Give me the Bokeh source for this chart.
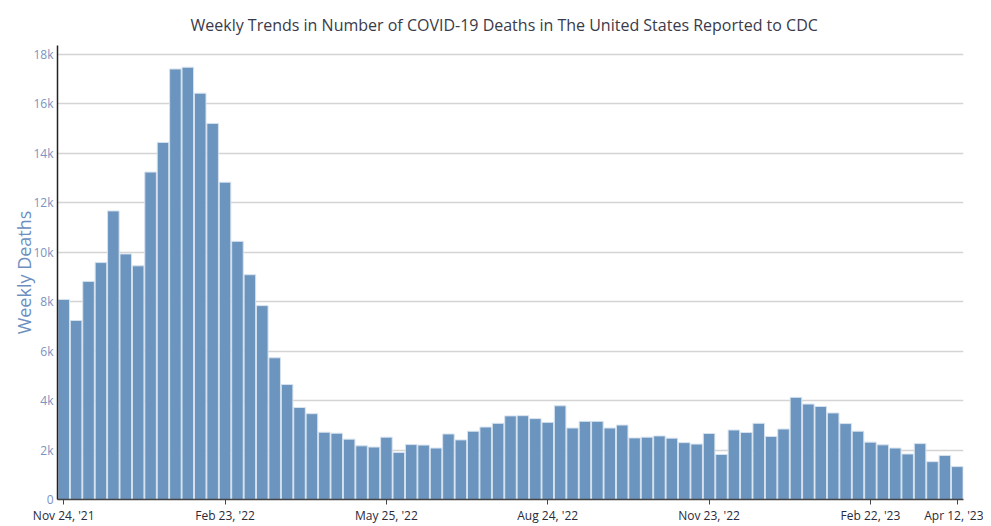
import datetime as dt
from bokeh.plotting import figure
from bokeh.models import FixedTicker, DatetimeTickFormatter, Range1d, ColumnDataSource
from bokeh.embed import file_html
from bokeh.resources import INLINE

start_date = dt.datetime(2021, 11, 24)
weekly_deaths = [
    8090, 7240, 8820, 9580, 11670, 9930, 9450, 13240, 14440, 17410,
    17480, 16430, 15210, 12830, 10440, 9090, 7840, 5730, 4650, 3720,
    3470, 2720, 2680, 2440, 2170, 2120, 2520, 1900, 2220, 2200,
    2080, 2650, 2410, 2760, 2930, 3080, 3380, 3390, 3270, 3120,
    3790, 2890, 3160, 3160, 2890, 3010, 2490, 2520, 2570, 2480,
    2300, 2240, 2670, 1820, 2810, 2710, 3080, 2550, 2850, 4130,
    3860, 3760, 3500, 3070, 2760, 2320, 2210, 2080, 1840, 2260,
    1530, 1780, 1330,
]
week_dates = [start_date + dt.timedelta(weeks=i) for i in range(len(weekly_deaths))]
tick_dates = [dt.datetime(2021, 11, 24), dt.datetime(2022, 2, 23), dt.datetime(2022, 5, 25),
              dt.datetime(2022, 8, 24), dt.datetime(2022, 11, 23), dt.datetime(2023, 2, 22),
              dt.datetime(2023, 4, 12)]
y_ticks = [0, 2000, 4000, 6000, 8000, 10000, 12000, 14000, 16000, 18000]
y_tick_labels = ["0", "2k", "4k", "6k", "8k", "10k", "12k", "14k", "16k", "18k"]

def ms(d):
    return (d - dt.datetime(1970, 1, 1)).total_seconds() * 1000.0

half_week = 3.5 * 24 * 3600 * 1000
x0 = ms(week_dates[0]) - half_week
x1 = ms(week_dates[-1]) + half_week

p = figure(frame_width=906, frame_height=454, x_axis_type="datetime",
           output_backend="svg", toolbar_location=None,
           x_range=Range1d(x0, x1), y_range=Range1d(0, 18360),
           min_border_left=57, min_border_right=20, min_border_top=45, min_border_bottom=19,
           background_fill_color="white", border_fill_color="white", outline_line_color=None)

p.title.text = "Weekly Trends in Number of COVID-19 Deaths in The United States Reported to CDC"
p.title.align = "left"
p.title.text_font = "Open Sans"
p.title.text_font_size = "16px"
p.title.text_font_style = "normal"
p.title.text_color = "#3a3a4a"
p.title.offset = 133
p.title.standoff = 19

src = ColumnDataSource(dict(x=week_dates, y=weekly_deaths))
p.vbar(x="x", top="y", width=7 * 24 * 3600 * 1000 * 0.93, source=src,
       fill_color="#6b94be", line_color="#d6e2ee", line_width=1)

p.xgrid.grid_line_color = None
p.ygrid.grid_line_color = "#d4d4d4"
p.ygrid.grid_line_width = 1.5

p.xaxis.ticker = FixedTicker(ticks=[ms(d) for d in tick_dates])
fmt = "%b %d, '%y"
p.xaxis.formatter = DatetimeTickFormatter(days=fmt, months=fmt, years=fmt, hours=fmt,
                                          minutes=fmt, seconds=fmt, milliseconds=fmt, microseconds=fmt,
                                          minsec=fmt, hourmin=fmt)
p.xaxis.axis_line_color = "#444444"
p.xaxis.axis_line_width = 1.5
p.xaxis.major_tick_line_color = "#444444"
p.xaxis.major_tick_out = 5
p.xaxis.major_tick_in = 0
p.xaxis.minor_tick_line_color = None
p.xaxis.major_label_text_font = "Open Sans"
p.xaxis.major_label_text_font_size = "12px"
p.xaxis.major_label_text_color = "#2a2a3a"
p.xaxis.major_label_standoff = 2

p.yaxis.ticker = FixedTicker(ticks=y_ticks)
p.yaxis.major_label_overrides = {t: l for t, l in zip(y_ticks, y_tick_labels)}
p.yaxis.axis_line_color = "#222222"
p.yaxis.axis_line_width = 1.5
p.yaxis.major_tick_out = 0
p.yaxis.major_tick_in = 0
p.yaxis.minor_tick_line_color = None
p.yaxis.major_label_text_font = "Open Sans"
p.yaxis.major_label_text_font_size = "12px"
p.yaxis.major_label_text_color = "#7b92c2"
p.yaxis.major_label_standoff = 4
p.yaxis.axis_label = "Weekly Deaths"
p.yaxis.axis_label_text_font = "Open Sans"
p.yaxis.axis_label_text_font_size = "18px"
p.yaxis.axis_label_text_font_style = "normal"
p.yaxis.axis_label_text_color = "#6d8fc0"
p.yaxis.axis_label_standoff = -6

open("out.html", "w").write(file_html(p, INLINE))
